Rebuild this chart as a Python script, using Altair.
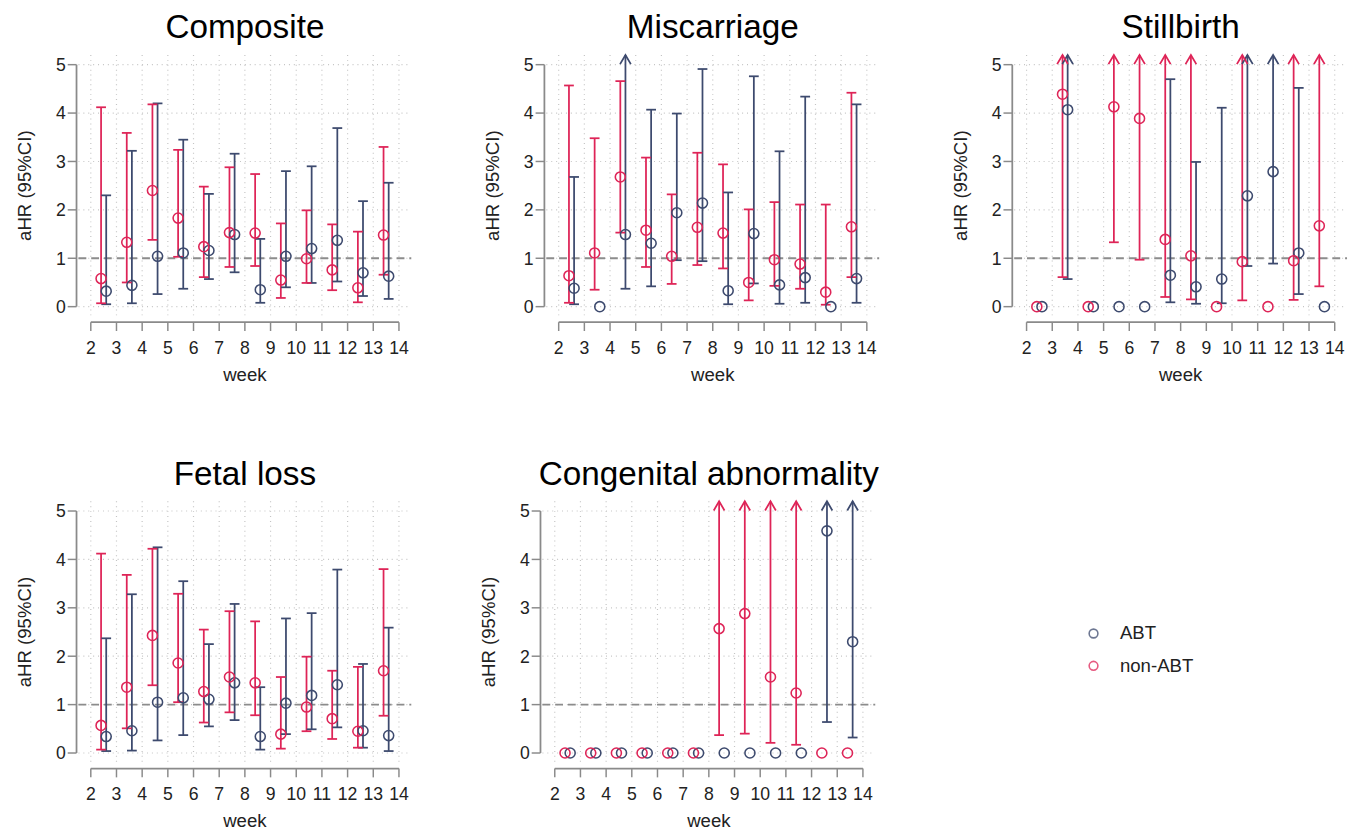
import altair as alt
import pandas as pd

# ---------------- data ----------------
WEEKS = [2, 3, 4, 5, 6, 7, 8, 9, 10, 11, 12, 13]
GROUPS = ["ABT", "non-ABT"]
PANELS = ["Composite", "Miscarriage", "Stillbirth", "Fetal loss", "Congenital abnormality"]
INF = float("inf")   # upper limit off the chart -> drawn as an arrow
NA = None            # no confidence interval

XTICKS = [2, 3, 4, 5, 6, 7, 8, 9, 10, 11, 12, 13, 14]
YTICKS = [0, 1, 2, 3, 4, 5]
REF_LINE = [1]
X_TITLE = "week"
Y_TITLE = "aHR (95%CI)"

# Composite
comp_abt_est = [0.32, 0.44, 1.04, 1.11, 1.16, 1.49, 0.35, 1.04, 1.20, 1.37, 0.70, 0.63]
comp_abt_lo = [0.05, 0.07, 0.26, 0.37, 0.57, 0.71, 0.08, 0.40, 0.49, 0.52, 0.22, 0.16]
comp_abt_hi = [2.30, 3.22, 4.20, 3.45, 2.33, 3.16, 1.40, 2.80, 2.90, 3.69, 2.18, 2.56]
comp_non_est = [0.58, 1.33, 2.40, 1.83, 1.24, 1.53, 1.52, 0.55, 0.99, 0.76, 0.39, 1.48]
comp_non_lo = [0.07, 0.50, 1.38, 1.03, 0.61, 0.82, 0.84, 0.18, 0.49, 0.34, 0.09, 0.66]
comp_non_hi = [4.12, 3.59, 4.18, 3.24, 2.48, 2.88, 2.74, 1.72, 1.99, 1.70, 1.55, 3.30]

# Miscarriage
misc_abt_est = [0.38, 0.00, 1.49, 1.31, 1.94, 2.14, 0.33, 1.51, 0.45, 0.60, 0.00, 0.58]
misc_abt_lo = [0.05, NA, 0.37, 0.42, 0.96, 0.94, 0.05, 0.48, 0.06, 0.08, NA, 0.08]
misc_abt_hi = [2.68, NA, INF, 4.07, 3.99, 4.91, 2.36, 4.76, 3.21, 4.34, NA, 4.18]
misc_non_est = [0.64, 1.11, 2.68, 1.58, 1.04, 1.64, 1.52, 0.50, 0.97, 0.88, 0.30, 1.65]
misc_non_lo = [0.08, 0.35, 1.53, 0.82, 0.47, 0.86, 0.79, 0.13, 0.43, 0.37, 0.04, 0.61]
misc_non_hi = [4.57, 3.48, 4.66, 3.08, 2.32, 3.18, 2.94, 2.01, 2.16, 2.11, 2.11, 4.42]

# Stillbirth
still_abt_est = [0.00, 4.07, 0.00, 0.00, 0.00, 0.65, 0.41, 0.57, 2.29, 2.79, 1.11, 0.00]
still_abt_lo = [NA, 0.57, NA, NA, NA, 0.09, 0.06, 0.07, 0.84, 0.89, 0.26, NA]
still_abt_hi = [NA, INF, NA, NA, NA, 4.70, 2.99, 4.11, INF, INF, 4.52, NA]
still_non_est = [0.00, 4.39, 0.00, 4.13, 3.89, 1.39, 1.05, 0.00, 0.93, 0.00, 0.95, 1.67]
still_non_lo = [NA, 0.61, NA, 1.33, 0.97, 0.20, 0.15, NA, 0.13, NA, 0.14, 0.42]
still_non_hi = [NA, INF, NA, INF, INF, INF, INF, NA, INF, NA, INF, INF]

# Fetal loss
fetal_abt_est = [0.34, 0.46, 1.05, 1.14, 1.11, 1.45, 0.34, 1.03, 1.19, 1.41, 0.46, 0.36]
fetal_abt_lo = [0.04, 0.05, 0.26, 0.37, 0.55, 0.68, 0.07, 0.39, 0.49, 0.53, 0.11, 0.04]
fetal_abt_hi = [2.37, 3.28, 4.25, 3.55, 2.25, 3.08, 1.36, 2.78, 2.89, 3.79, 1.84, 2.59]
fetal_non_est = [0.57, 1.36, 2.43, 1.86, 1.27, 1.57, 1.45, 0.39, 0.95, 0.71, 0.45, 1.70]
fetal_non_lo = [0.07, 0.51, 1.40, 1.05, 0.63, 0.84, 0.78, 0.09, 0.45, 0.29, 0.11, 0.77]
fetal_non_hi = [4.12, 3.68, 4.22, 3.29, 2.55, 2.93, 2.72, 1.57, 1.99, 1.70, 1.78, 3.80]

# Congenital abnormality
cong_abt_est = [0.00, 0.00, 0.00, 0.00, 0.00, 0.00, 0.00, 0.00, 0.00, 0.00, 4.59, 2.30]
cong_abt_lo = [NA, NA, NA, NA, NA, NA, NA, NA, NA, NA, 0.64, 0.32]
cong_abt_hi = [NA, NA, NA, NA, NA, NA, NA, NA, NA, NA, INF, INF]
cong_non_est = [0.00, 0.00, 0.00, 0.00, 0.00, 0.00, 2.57, 2.88, 1.57, 1.24, 0.00, 0.00]
cong_non_lo = [NA, NA, NA, NA, NA, NA, 0.37, 0.40, 0.21, 0.17, NA, NA]
cong_non_hi = [NA, NA, NA, NA, NA, NA, INF, INF, INF, INF, NA, NA]

# ---------------- styling ----------------
W, H = 340, 267
X_DOMAIN = [1.52, 14.48]
Y_DOMAIN = [-0.2, 5.2]
DODGE = {"non-ABT": 0.4, "ABT": 0.6}
COLORS = {"ABT": "#3D4A6E", "non-ABT": "#DE2457"}
AXIS_GRAY = "#8a8a8a"
GRID_GRAY = "#c4c4c4"
TEXT = "#222222"
FONT = "Liberation Sans"
HEAD = "M-1,1.7L0,0L1,1.7"
TICK_FS, TITLE_FS, MAIN_FS = 18, 19, 34

SERIES = {
    "Composite": ((comp_abt_est, comp_abt_lo, comp_abt_hi), (comp_non_est, comp_non_lo, comp_non_hi)),
    "Miscarriage": ((misc_abt_est, misc_abt_lo, misc_abt_hi), (misc_non_est, misc_non_lo, misc_non_hi)),
    "Stillbirth": ((still_abt_est, still_abt_lo, still_abt_hi), (still_non_est, still_non_lo, still_non_hi)),
    "Fetal loss": ((fetal_abt_est, fetal_abt_lo, fetal_abt_hi), (fetal_non_est, fetal_non_lo, fetal_non_hi)),
    "Congenital abnormality": ((cong_abt_est, cong_abt_lo, cong_abt_hi), (cong_non_est, cong_non_lo, cong_non_hi)),
}

recs = []
for name in PANELS:
    for grp, (est, lo, hi) in zip(GROUPS, SERIES[name]):
        for w, e, l, h in zip(WEEKS, est, lo, hi):
            has_ci = l is not None
            arrow = has_ci and h == INF
            recs.append(dict(panel=name, group=grp, week=w, x=w + DODGE[grp], est=e,
                             lo=(l if has_ci else 0.0),
                             hi=(Y_DOMAIN[1] if arrow else (h if has_ci else 0.0)),
                             has_ci=has_ci, arrow=arrow))
df = pd.DataFrame(recs)

xs = alt.Scale(domain=X_DOMAIN, nice=False, zero=False)
ys = alt.Scale(domain=Y_DOMAIN, nice=False, zero=False)
col = alt.Color("group:N", scale=alt.Scale(domain=GROUPS, range=[COLORS[g] for g in GROUPS]), legend=None)


def Xn(f):
    return alt.X(f, scale=xs, axis=None)


def Yn(f):
    return alt.Y(f, scale=ys, axis=None)


xt = pd.DataFrame({"t": XTICKS, "lab": [str(v) for v in XTICKS]})
yt = pd.DataFrame({"t": YTICKS, "lab": [str(v) for v in YTICKS]})
one = pd.DataFrame({"k": [0]})


def panel(name, legend=False):
    d = df[df.panel == name]
    ci = d[d.has_ci]
    capped = ci[~ci.arrow]
    arrows = ci[ci.arrow]

    layers = []
    # dotted grid
    layers.append(alt.Chart(xt).mark_rule(color=GRID_GRAY, strokeDash=[1, 4], strokeWidth=1.2).encode(
        x=Xn("t:Q"), y=alt.value(0), y2=alt.value(H)))
    layers.append(alt.Chart(yt).mark_rule(color=GRID_GRAY, strokeDash=[1, 4], strokeWidth=1.2).encode(
        y=Yn("t:Q"), x=alt.value(0), x2=alt.value(W)))
    # reference line at 1
    layers.append(alt.Chart(pd.DataFrame({"r": REF_LINE})).mark_rule(
        color="#8c8c8c", strokeDash=[8, 5], strokeWidth=2).encode(
        y=Yn("r:Q"), x=alt.value(0), x2=alt.value(W)))
    # R-style axes (line spans first..last tick)
    layers.append(alt.Chart(pd.DataFrame({"a": [min(YTICKS)], "b": [max(YTICKS)]})).mark_rule(
        color=AXIS_GRAY, strokeWidth=1.8).encode(y=Yn("a:Q"), y2="b:Q", x=alt.value(-2)))
    layers.append(alt.Chart(pd.DataFrame({"a": [min(XTICKS)], "b": [max(XTICKS)]})).mark_rule(
        color=AXIS_GRAY, strokeWidth=1.8).encode(x=Xn("a:Q"), x2="b:Q", y=alt.value(H + 6)))
    layers.append(alt.Chart(yt).mark_rule(color=AXIS_GRAY, strokeWidth=1.5).encode(
        y=Yn("t:Q"), x=alt.value(-11), x2=alt.value(-2)))
    layers.append(alt.Chart(xt).mark_rule(color=AXIS_GRAY, strokeWidth=1.5).encode(
        x=Xn("t:Q"), y=alt.value(H + 6), y2=alt.value(H + 15)))
    layers.append(alt.Chart(yt).mark_text(align="right", baseline="alphabetic", dy=6.5,
                                          fontSize=TICK_FS, font=FONT, color=TEXT).encode(
        y=Yn("t:Q"), x=alt.value(-13), text="lab:N"))
    layers.append(alt.Chart(xt).mark_text(align="center", baseline="alphabetic",
                                          fontSize=TICK_FS, font=FONT, color=TEXT).encode(
        x=Xn("t:Q"), y=alt.value(H + 38), text="lab:N"))
    layers.append(alt.Chart(one).mark_text(text=X_TITLE, align="center", baseline="alphabetic",
                                           fontSize=TITLE_FS, font=FONT, color=TEXT).encode(
        x=alt.value(W / 2), y=alt.value(H + 66)))
    layers.append(alt.Chart(one).mark_text(text=Y_TITLE, align="center", baseline="alphabetic",
                                           angle=270, fontSize=TITLE_FS, font=FONT, color=TEXT).encode(
        x=alt.value(-48), y=alt.value(H / 2)))
    layers.append(alt.Chart(one).mark_text(text=name, align="center", baseline="alphabetic",
                                           fontSize=MAIN_FS, font=FONT, color="#000000").encode(
        x=alt.value(W / 2), y=alt.value(-17)))

    # estimates and intervals
    layers.append(alt.Chart(ci).mark_rule(strokeWidth=1.8).encode(
        x=Xn("x:Q"), y=Yn("lo:Q"), y2="hi:Q", color=col))
    layers.append(alt.Chart(ci).mark_tick(orient="horizontal", size=10, thickness=1.8, opacity=1).encode(
        x=Xn("x:Q"), y=Yn("lo:Q"), color=col))
    layers.append(alt.Chart(capped).mark_tick(orient="horizontal", size=10, thickness=1.8, opacity=1).encode(
        x=Xn("x:Q"), y=Yn("hi:Q"), color=col))
    layers.append(alt.Chart(arrows).mark_point(shape=HEAD, size=121, filled=False, strokeWidth=1.8,
                                               opacity=1).encode(
        x=Xn("x:Q"), y=Yn("hi:Q"), color=col))
    layers.append(alt.Chart(d).mark_point(shape="circle", size=105, filled=False, strokeWidth=1.6,
                                          opacity=1).encode(
        x=Xn("x:Q"), y=Yn("est:Q"), color=col))

    if legend:
        leg_df = pd.DataFrame({"group": GROUPS})
        leg_y = alt.Y("group:N", scale=alt.Scale(domain=GROUPS, range=[135, 168], padding=0), axis=None)
        layers.append(alt.Chart(leg_df).mark_point(shape="circle", size=80, filled=False,
                                                   strokeWidth=1.6, opacity=0.75).encode(
            x=alt.value(563), y=leg_y, color=col))
        layers.append(alt.Chart(leg_df).mark_text(align="left", baseline="middle", fontSize=TITLE_FS,
                                                  font=FONT, color=TEXT).encode(
            x=alt.value(590), y=leg_y, text="group:N"))

    return alt.layer(*layers).properties(width=W, height=H)


row1 = alt.hconcat(panel(PANELS[0]), panel(PANELS[1]), panel(PANELS[2]), spacing=72)
row2 = alt.hconcat(panel(PANELS[3]), panel(PANELS[4], legend=True), spacing=68)
chart = alt.vconcat(row1, row2, spacing=73).properties(
    padding={"left": 8, "top": -6, "right": 0, "bottom": 0}
).configure(font=FONT, background="white").configure_view(stroke="transparent")

chart.save("out.html", embed_options={"renderer": "svg", "actions": False})
